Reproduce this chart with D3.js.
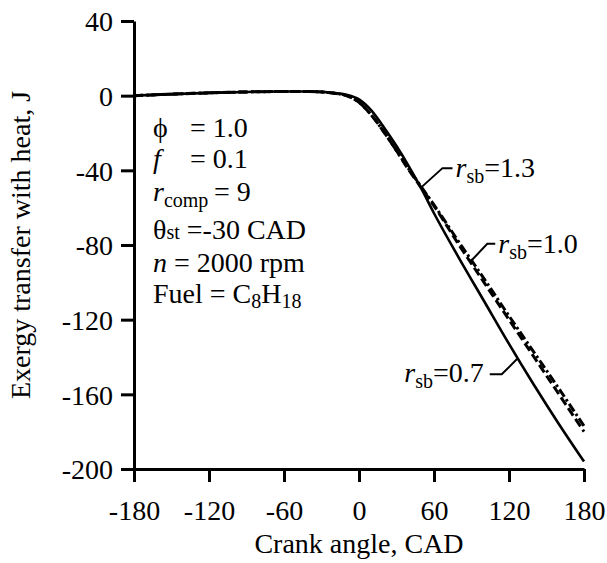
<!DOCTYPE html>
<html>
<head>
<meta charset="utf-8">
<script src="https://cdn.jsdelivr.net/npm/d3@7"></script>
<style>
  body { margin: 0; background: #fff; }
  text { font-family: "Liberation Serif", "Times New Roman", serif; fill: #000; }
</style>
</head>
<body>
<div id="chart"></div>
<script>
// crank angle samples, CAD
const angles = [-180, -150, -120, -90, -60, -40, -20, -10, 0, 10, 20, 30, 40, 50, 60, 80, 100, 120, 140, 160, 180];

// exergy transfer with heat, J
const rsb07 = [0, 0.8, 1.5, 2, 2.2, 2.2, 1.5, 0.5, -2, -8, -17, -27, -38, -50, -63, -87, -110, -133, -155, -176, -196];
const rsb10 = [0, 0.8, 1.5, 2, 2.2, 2.2, 1.3, 0, -3.5, -10.5, -19.5, -29.5, -40, -49.5, -59, -80, -100, -120, -140, -160, -180];
const rsb13 = [0, 0.8, 1.5, 2, 2.2, 2.2, 1.3, 0, -3.5, -10.5, -19.5, -29.5, -39.5, -49, -58.5, -78.5, -98, -118, -137.5, -157, -177];

const xTicks = [-180, -120, -60, 0, 60, 120, 180];
const yTicks = [-200, -160, -120, -80, -40, 0, 40];

// series label: name, angle where the leader touches the curve
const seriesNames = ["0.7", "1.0", "1.3"];
const labelAngles = [127, 89, 50];

const w = 607, h = 563;
const fs = 28, fsSub = 20;

const svg = d3.select("#chart").append("svg")
    .attr("width", w)
    .attr("height", h);

const x = d3.scaleLinear().domain([-180, 180]).range([134, 584]);
const y = d3.scaleLinear().domain([-200, 40]).range([469, 21]);

// axes
const xAxis = svg.append("g")
    .attr("transform", `translate(0,${y(-200)})`)
    .call(d3.axisBottom(x).tickValues(xTicks).tickFormat(d => String(d)).tickSize(13).tickSizeOuter(0));
const yAxis = svg.append("g")
    .attr("transform", `translate(${x(-180)},0)`)
    .call(d3.axisLeft(y).tickValues(yTicks).tickFormat(d => String(d)).tickSize(13).tickSizeOuter(0).tickPadding(8));

[xAxis, yAxis].forEach(g => {
    g.select(".domain").attr("stroke", "#000").attr("stroke-width", 3);
    g.selectAll(".tick line").attr("stroke", "#000").attr("stroke-width", 3);
    g.selectAll(".tick text")
        .style("font-family", '"Liberation Serif", serif')
        .style("font-size", fs + "px")
        .attr("fill", "#000");
});
xAxis.selectAll(".tick text").attr("y", 51).attr("dy", 0);
yAxis.selectAll(".tick text").attr("dy", "0.35em");

svg.append("text")
    .attr("x", x(0))
    .attr("y", 553)
    .attr("text-anchor", "middle")
    .style("font-size", fs + "px")
    .text("Crank angle, CAD");

svg.append("text")
    .attr("transform", `translate(30,${(y(40) + y(-200)) / 2}) rotate(-90)`)
    .attr("text-anchor", "middle")
    .style("font-size", fs + "px")
    .text("Exergy transfer with heat, J");

// curves
const line = d3.line()
    .x(d => x(d[0]))
    .y(d => y(d[1]))
    .curve(d3.curveMonotoneX);

const series = [
    { vals: rsb07, dash: null, width: 2.6 },
    { vals: rsb10, dash: "9,4", width: 3 },
    { vals: rsb13, dash: "9,3,2.5,3", width: 3 }
];

series.slice().reverse().forEach(s => {
    svg.append("path")
        .datum(angles.map((a, i) => [a, s.vals[i]]))
        .attr("d", line)
        .attr("fill", "none")
        .attr("stroke", "#000")
        .attr("stroke-width", s.width)
        .attr("stroke-dasharray", s.dash);
});

// labels with leader lines
function valueAt(vals, a) {
    return d3.scaleLinear().domain(angles).range(vals)(a);
}

function rsbLabel(g, name) {
    const t = g.append("text").style("font-size", fs + "px");
    t.append("tspan").style("font-style", "italic").text("r");
    t.append("tspan").style("font-size", fsSub + "px").attr("dy", 6).text("sb");
    t.append("tspan").attr("dy", -6).text("=" + name);
    return t;
}

seriesNames.forEach((name, i) => {
    const a = labelAngles[i];
    const px = x(a), py = y(valueAt(series[i].vals, a));
    const g = svg.append("g");
    if (i === 0) {
        g.append("path")
            .attr("d", `M${px},${py} L${px - 16},${py + 16} L${px - 28},${py + 16}`)
            .attr("fill", "none").attr("stroke", "#000").attr("stroke-width", 2);
        rsbLabel(g, name)
            .attr("x", px - 34).attr("y", py + 24)
            .attr("text-anchor", "end");
    } else {
        const dx = i === 1 ? 17 : 21, dy = i === 1 ? -18 : -19, len = i === 1 ? 25 : 31;
        g.append("path")
            .attr("d", `M${px},${py} L${px + dx},${py + dy} L${px + len},${py + dy}`)
            .attr("fill", "none").attr("stroke", "#000").attr("stroke-width", 2);
        rsbLabel(g, name)
            .attr("x", px + len + 3).attr("y", py + dy + 9);
    }
});

// parameter block
const note = svg.append("g").style("font-size", fs + "px");
const lx = 153, eqx = 190;

let t = note.append("text").attr("y", 137);
t.append("tspan").attr("x", lx).text("\u03d5");
t.append("tspan").attr("x", eqx).text("= 1.0");

t = note.append("text").attr("y", 168);
t.append("tspan").attr("x", lx).style("font-style", "italic").text("f");
t.append("tspan").attr("x", eqx).text("= 0.1");

t = note.append("text").attr("y", 201);
t.append("tspan").attr("x", lx).style("font-style", "italic").text("r");
t.append("tspan").style("font-size", fsSub + "px").attr("dy", 6).text("comp");
t.append("tspan").attr("dy", -6).text("\u2009= 9");

t = note.append("text").attr("y", 239);
t.append("tspan").attr("x", lx).text("\u03b8");
t.append("tspan").style("font-size", fsSub + "px").text("st");
t.append("tspan").text(" =-30 CAD");

t = note.append("text").attr("y", 272);
t.append("tspan").attr("x", lx).style("font-style", "italic").text("n");
t.append("tspan").text(" = 2000 rpm");

t = note.append("text").attr("y", 303);
t.append("tspan").attr("x", lx).text("Fuel = C");
t.append("tspan").style("font-size", fsSub + "px").attr("dy", 5).text("8");
t.append("tspan").attr("dy", -5).text("H");
t.append("tspan").style("font-size", fsSub + "px").attr("dy", 5).text("18");
</script>
</body>
</html>
